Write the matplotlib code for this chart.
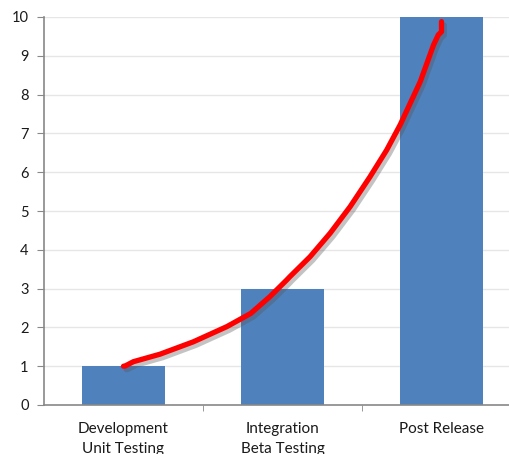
import matplotlib
matplotlib.use("Agg")
import matplotlib.pyplot as plt
import matplotlib.patheffects as pe

categories = ["Development\nUnit Testing", "Integration\nBeta Testing", "Post Release"]
values = [1, 3, 10]
yticks = list(range(0, 11))

# hand-drawn red trend curve
curve_x = [0.0, 0.01, 0.062, 0.23, 0.44, 0.65, 0.80, 0.92, 1.026, 1.047, 1.173, 1.30,
           1.425, 1.55, 1.655, 1.74, 1.866, 1.95, 1.98, 2.0, 2.0]
curve_y = [1.0, 1.005, 1.116, 1.31, 1.63, 2.02, 2.36, 2.79, 3.22, 3.31, 3.82, 4.43,
           5.11, 5.88, 6.57, 7.22, 8.33, 9.28, 9.54, 9.62, 9.88]

plt.rcParams['font.family'] = ['Lato', 'DejaVu Sans']

fig = plt.figure(figsize=(5.10, 4.54), dpi=100)
ax = fig.add_axes([44/510, 1-405/454, 477/510, 388/454])

ax.bar(range(len(values)), values, width=0.52, color="#4F81BD", zorder=2)

ax.set_xlim(-0.5, 2.5)
ax.set_ylim(0, 10)
ax.set_yticks(yticks)
ax.set_yticklabels([str(t) for t in yticks], fontsize=10.5, color="#1a1a1a")
ax.yaxis.grid(True, color="#E6E6E6", linewidth=1, zorder=0)
ax.set_axisbelow(True)

ax.set_xticks(range(len(categories)))
ax.set_xticklabels(categories, fontsize=11, color="#1a1a1a", linespacing=1.5)
ax.tick_params(axis='x', which='major', length=0, pad=12.5)
ax.set_xticks([0.5, 1.5], minor=True)
ax.tick_params(axis='x', which='minor', length=4, color="#888888", direction='out')
ax.tick_params(axis='y', length=5, color="#888888", pad=6)

for s in ["top", "right"]:
    ax.spines[s].set_visible(False)
for s in ["left", "bottom"]:
    ax.spines[s].set_color("#888888")
    ax.spines[s].set_linewidth(1.2)

ax.plot(curve_x, curve_y, color="#FF0000", linewidth=3.8, solid_capstyle='round',
        solid_joinstyle='round', zorder=5, clip_on=False,
        path_effects=[pe.SimpleLineShadow(offset=(2, -2.5), shadow_color="#555555", alpha=0.35),
                      pe.Normal()])

fig.savefig("out.png", dpi=100)
